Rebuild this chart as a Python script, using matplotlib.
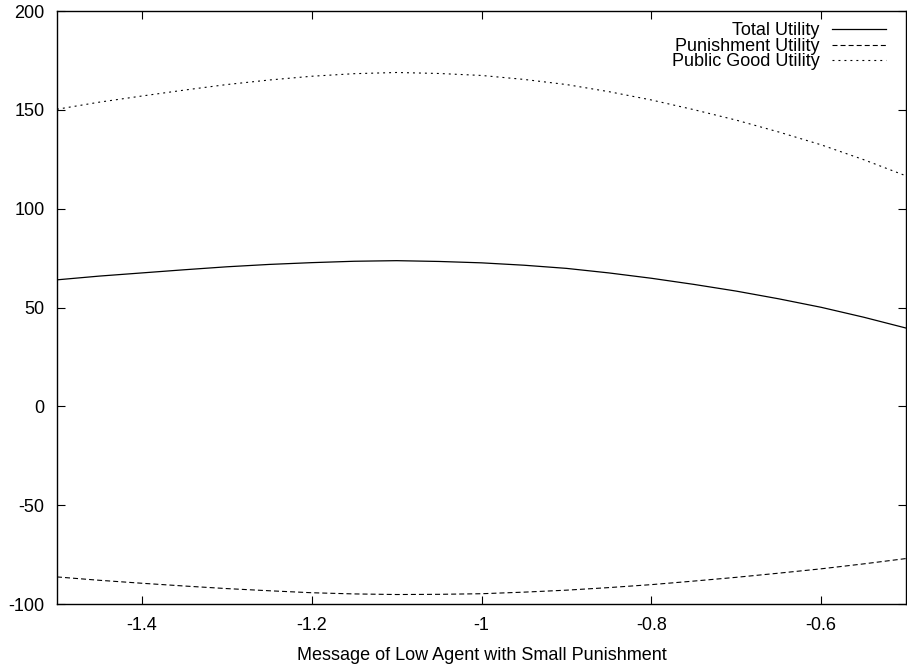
import matplotlib
matplotlib.use("Agg")
import matplotlib.pyplot as plt
from matplotlib.ticker import FuncFormatter

plt.rcParams['font.family'] = ['Liberation Sans', 'DejaVu Sans']
plt.rcParams['axes.unicode_minus'] = False
plt.rcParams['lines.scale_dashes'] = False

# values
message = [-1.5, -1.45, -1.4, -1.35, -1.3, -1.25, -1.2, -1.15, -1.1, -1.05, -1.0,
           -0.95, -0.9, -0.85, -0.8, -0.75, -0.7, -0.65, -0.6, -0.55, -0.5]
total_utility = [64.0, 65.9, 67.5, 69.1, 70.6, 71.8, 72.7, 73.4, 73.7, 73.3, 72.6,
                 71.4, 69.8, 67.5, 64.8, 61.7, 58.3, 54.4, 50.1, 45.1, 39.6]
punishment_utility = [-86.3, -88.0, -89.5, -90.9, -92.2, -93.3, -94.3, -94.9, -95.2, -95.1, -94.8,
                      -94.0, -93.0, -91.7, -90.2, -88.4, -86.5, -84.4, -82.2, -79.7, -77.0]
public_good_utility = [150.3, 153.9, 157.0, 160.0, 162.8, 165.1, 167.0, 168.3, 168.9, 168.4, 167.4,
                       165.4, 162.8, 159.2, 155.0, 150.1, 144.8, 138.8, 132.3, 124.8, 116.6]

x_ticks = [-1.4, -1.2, -1.0, -0.8, -0.6]
y_ticks = [-100, -50, 0, 50, 100, 150, 200]

fig = plt.figure(figsize=(9.07, 6.68), dpi=100)
ax = fig.add_axes([0.0628, 0.0958, 0.9362, 0.8877])

ax.plot(message, total_utility, color='black', linewidth=0.9, label='Total Utility')
ax.plot(message, punishment_utility, color='black', linewidth=0.8,
        dashes=(3.6, 2.2), label='Punishment Utility')
ax.plot(message, public_good_utility, color='black', linewidth=0.8,
        dashes=(1.4, 2.9), label='Public Good Utility')

ax.set_xlim(-1.5, -0.5)
ax.set_ylim(-100, 200)
ax.set_xticks(x_ticks)
ax.set_yticks(y_ticks)
ax.xaxis.set_major_formatter(FuncFormatter(lambda v, p: '%g' % round(v, 3)))
ax.tick_params(direction='in', length=6, width=0.8, top=True, right=True,
               labelsize=13, pad=9)
for s in ax.spines.values():
    s.set_linewidth(1.0)

ax.set_xlabel('Message of Low Agent with Small Punishment', fontsize=13, labelpad=10)

leg = ax.legend(loc='upper right', frameon=False, markerfirst=False, fontsize=13,
                handlelength=3.0, handletextpad=0.67, labelspacing=-0.08,
                borderaxespad=0, borderpad=0, bbox_to_anchor=(0.9764, 0.981))
for t in leg.get_texts():
    t.set_ha('right')

fig.savefig('out.png', dpi=100)
